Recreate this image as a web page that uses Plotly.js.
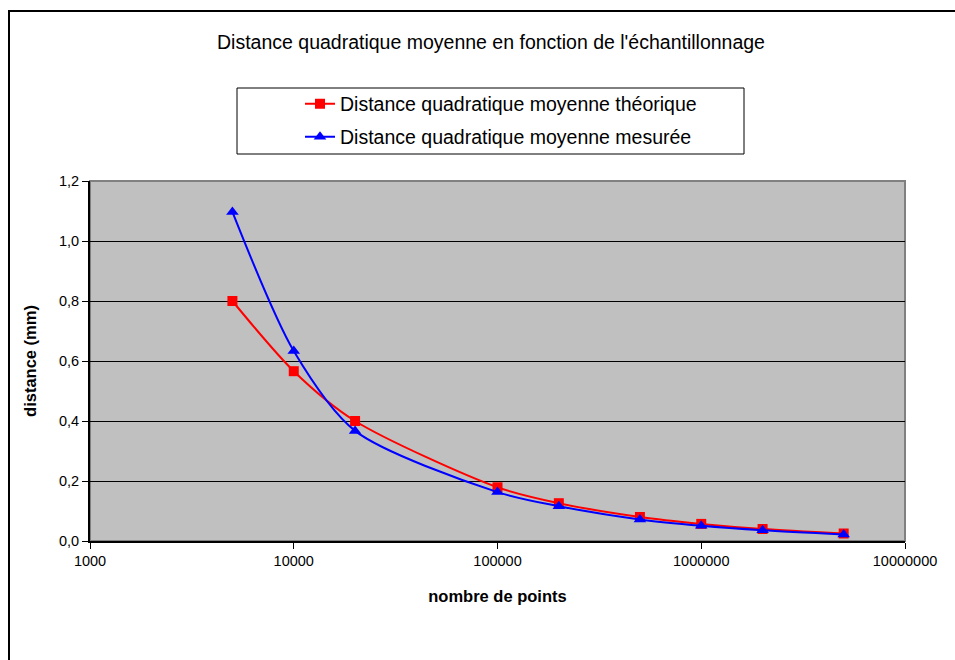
<!DOCTYPE html>
<html>
<head>
<meta charset="utf-8">
<script src="https://cdn.plot.ly/plotly-3.0.1.min.js"></script>
<style>html,body{margin:0;padding:0;background:#fff;}#chart{width:955px;height:660px;}</style>
</head>
<body>
<div id="chart"></div>
<script>
// ---- data ----
var nbPoints = [5000, 10000, 20000, 100000, 200000, 500000, 1000000, 2000000, 5000000];
var distTheorique = [0.8, 0.566, 0.4, 0.179, 0.126, 0.08, 0.057, 0.04, 0.025];
var distMesuree = [1.097, 0.633, 0.367, 0.163, 0.116, 0.072, 0.051, 0.036, 0.022];
var xTickVals = [1000, 10000, 100000, 1000000, 10000000];
var xTickText = ['1000', '10000', '100000', '1000000', '10000000'];
var yTickVals = [0, 0.2, 0.4, 0.6, 0.8, 1.0, 1.2];
var yTickText = ['0,0', '0,2', '0,4', '0,6', '0,8', '1,0', '1,2'];
var nameTheorique = 'Distance quadratique moyenne théorique';
var nameMesuree = 'Distance quadratique moyenne mesurée';
var chartTitle = "Distance quadratique moyenne en fonction de l'échantillonnage";
var xTitle = 'nombre de points';
var yTitle = 'distance (mm)';

var FONT = 'Liberation Sans, Arial, sans-serif';
// plot area in pixels: x 90..905, y 181..541
var L = 90, R = 905, T = 181, B = 541;
function px(x) { return (x - L) / (R - L); }
function py(y) { return (B - y) / (B - T); }

var traces = [
  {
    x: nbPoints, y: distTheorique, name: nameTheorique, type: 'scatter', mode: 'lines+markers',
    line: {color: '#FF0000', width: 2, shape: 'spline', smoothing: 0.8},
    marker: {symbol: 'square', size: 10, color: '#FF0000'},
    legend: 'legend'
  },
  {
    x: nbPoints, y: distMesuree, name: nameMesuree, type: 'scatter', mode: 'lines+markers',
    line: {color: '#0000FF', width: 2, shape: 'spline', smoothing: 0.8},
    marker: {symbol: 'triangle-up', size: 11, color: '#0000FF'},
    legend: 'legend2'
  }
];

var legendCommon = {
  xref: 'paper', yref: 'paper', xanchor: 'left', yanchor: 'middle',
  bgcolor: 'rgba(0,0,0,0)', borderwidth: 0,
  font: {family: FONT, size: 19.5, color: '#000'}
};

var layout = {
  width: 955, height: 660,
  paper_bgcolor: '#FFFFFF', plot_bgcolor: '#C0C0C0',
  margin: {l: L, r: 955 - R, t: T, b: 660 - B, pad: 0},
  font: {family: FONT, color: '#000'},
  title: {
    text: chartTitle, xref: 'container', yref: 'container',
    x: 491 / 955, y: 1 - 42 / 660, xanchor: 'center', yanchor: 'middle',
    font: {family: FONT, size: 19.5, color: '#000'}
  },
  xaxis: {
    type: 'log', range: [3, 7],
    tickvals: xTickVals, ticktext: xTickText,
    ticks: 'outside', ticklen: 6, tickcolor: '#000', tickwidth: 1,
    showline: true, linecolor: '#000', linewidth: 2,
    showgrid: false, zeroline: false,
    tickfont: {family: FONT, size: 14.5, color: '#000'},
    title: {text: xTitle, standoff: 22, font: {family: FONT, size: 16.5, color: '#000', weight: 'bold'}}
  },
  yaxis: {
    range: [0, 1.2],
    tickvals: yTickVals, ticktext: yTickText,
    ticks: 'outside', ticklen: 6, tickcolor: '#000', tickwidth: 1,
    showline: true, linecolor: '#000', linewidth: 2,
    showgrid: true, gridcolor: '#000', gridwidth: 1, zeroline: false,
    tickfont: {family: FONT, size: 14.5, color: '#000'},
    title: {text: yTitle, standoff: 18, font: {family: FONT, size: 16.5, color: '#000', weight: 'bold'}}
  },
  showlegend: true,
  legend: Object.assign({x: px(300), y: py(104)}, legendCommon),
  legend2: Object.assign({x: px(300), y: py(137)}, legendCommon),
  shapes: [
    // plot area border (gray)
    {type: 'rect', xref: 'paper', yref: 'paper', x0: 0, x1: 1, y0: 0, y1: 1,
     line: {color: '#808080', width: 2}, fillcolor: 'rgba(0,0,0,0)', layer: 'below'},
    // legend box
    {type: 'rect', xref: 'paper', yref: 'paper', x0: px(237), x1: px(744), y0: py(154), y1: py(88),
     line: {color: '#000', width: 1}, fillcolor: 'rgba(0,0,0,0)'},
    // outer chart frame (left and top edges)
    {type: 'line', xref: 'paper', yref: 'paper', x0: px(9), x1: px(9), y0: py(11), y1: py(660),
     line: {color: '#000', width: 2}},
    {type: 'line', xref: 'paper', yref: 'paper', x0: px(8), x1: px(955), y0: py(11), y1: py(11),
     line: {color: '#000', width: 2}}
  ]
};

Plotly.newPlot('chart', traces, layout, {displayModeBar: false, staticPlot: true});
</script>
</body>
</html>
